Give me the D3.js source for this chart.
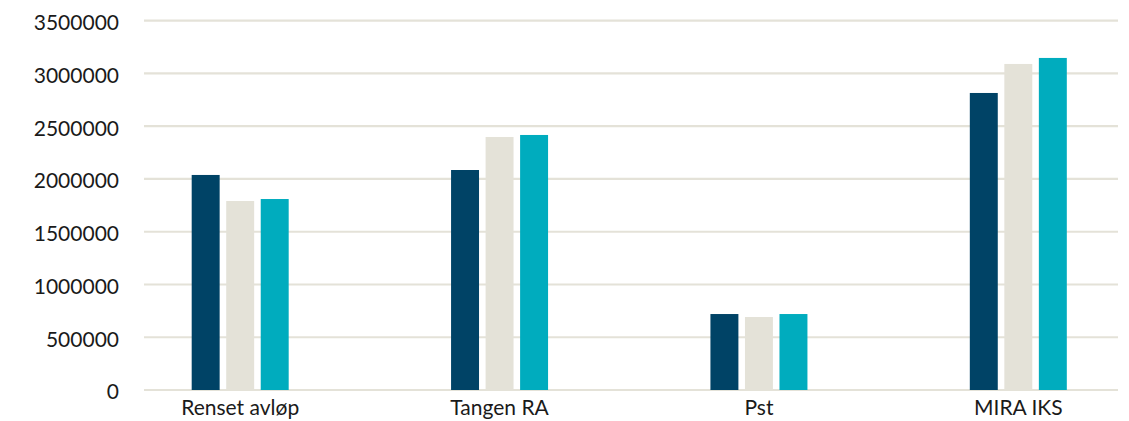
<!DOCTYPE html>
<html><head><meta charset="utf-8">
<script src="https://cdn.jsdelivr.net/npm/d3@7"></script>
<style>
html,body{margin:0;padding:0;background:#fff;}
svg text{font-family:Lato,"Open Sans",sans-serif;fill:#1a1a1a;}
</style></head>
<body><svg id="c" width="1129" height="421"></svg>
<script>
const categories = ["Renset avløp", "Tangen RA", "Pst", "MIRA IKS"];
const seriesNames = ["Serie 1", "Serie 2", "Serie 3"];
const series1 = [2038000, 2085000, 720000, 2815000];
const series2 = [1791000, 2398000, 692000, 3090000];
const series3 = [1810000, 2417000, 720000, 3147000];
const yTicks = [0, 500000, 1000000, 1500000, 2000000, 2500000, 3000000, 3500000];
const colors = ["#004366", "#e4e2d8", "#00acbe"];

const svg = d3.select("#c");
const y = d3.scaleLinear().domain([0, 3500000]).range([390, 20.7]);
const x = d3.scaleBand().domain(categories).range([110.5, 1148]).padding(0);
const inner = d3.scaleBand().domain(seriesNames).range([0, 97]).paddingInner(0.19).paddingOuter(0);

// gridlines
svg.append("g").selectAll("line").data(yTicks).join("line")
  .attr("x1", 144).attr("x2", 1118)
  .attr("y1", d => y(d)).attr("y2", d => y(d))
  .attr("stroke", "#e4e2d8").attr("stroke-width", 2.2);

// y axis labels
const yAxis = d3.axisLeft(y).tickValues(yTicks).tickSize(0).tickPadding(0).tickFormat(d3.format("d"));
const ya = svg.append("g").attr("transform", "translate(119,0)").call(yAxis);
ya.select(".domain").remove();
ya.selectAll("text").attr("font-size", 21).attr("dy", "0.42em").style("font-family", "Lato").attr("fill", "#1a1a1a");

const data = [series1, series2, series3];
const g = svg.append("g");
seriesNames.forEach((s, si) => {
  g.append("g").selectAll("rect").data(categories).join("rect")
    .attr("x", (c) => x(c) + x.bandwidth()/2 - 48.5 + inner(s))
    .attr("width", inner.bandwidth())
    .attr("y", (c, i) => y(data[si][i]))
    .attr("height", (c, i) => y(0) - y(data[si][i]))
    .attr("fill", colors[si]);
});

// x axis labels
const xAxis = d3.axisBottom(x).tickSize(0).tickPadding(0);
const xa = svg.append("g").attr("transform", "translate(0,398)").call(xAxis);
xa.select(".domain").remove();
xa.selectAll("text").attr("font-size", 21).attr("dy", "0.8em").style("font-family", "Lato").attr("fill", "#1a1a1a");
</script></body></html>
